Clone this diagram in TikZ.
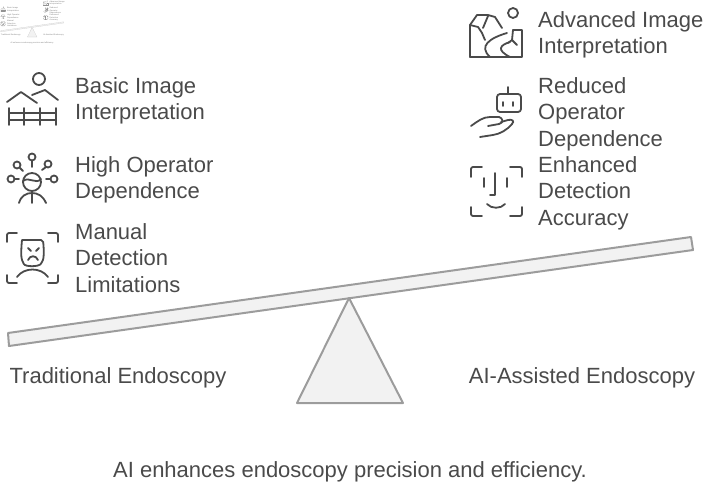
\documentclass[tikz,border=0pt]{standalone}
\usepackage{fontspec}
\setmainfont{Liberation Sans}
\usetikzlibrary{positioning}
\definecolor{inkgrey}{HTML}{4A4A4A}
\definecolor{edgegrey}{HTML}{9C9C9C}
\definecolor{fillgrey}{HTML}{F2F2F2}
\tikzset{
	label text/.style={text=inkgrey, font=\fontsize{22}{26.5}\selectfont, align=left, anchor=west, inner sep=0pt},
	side text/.style={text=inkgrey, font=\fontsize{22}{26.5}\selectfont, inner sep=0pt},
	icon line/.style={draw=inkgrey, line width=1.8pt, line cap=round, line join=round},
	balance part/.style={draw=edgegrey, fill=fillgrey, line width=2pt, line join=round},
	mini picture/.style={
		scale=.092, name prefix=mini_,
		label text/.append style={text=inkgrey!70, font=\fontsize{2}{2.45}\selectfont},
		side text/.append style={text=inkgrey!70, font=\fontsize{2}{2.45}\selectfont},
		icon line/.append style={draw=inkgrey!60, line width=.12pt},
		balance part/.append style={draw=edgegrey!60, line width=.15pt}
	}
}

\newcommand{\drawseesaw}{
	% Balance.
	\draw[balance part] (8,333) -- (691,237) -- (693,250) -- (9,346) -- cycle;
	\draw[balance part] (349,298) -- (403,403) -- (297,403) -- cycle;

	% Left labels.
	\node[label text] (basic_label)  at (75,101)  {Basic Image\\Interpretation};
	\node[label text] (high_label)   at (75,180) {High Operator\\Dependence};
	\node[label text] (manual_label) at (75,258) {Manual\\Detection\\Limitations};

	% Right labels.
	\node[label text] (advanced_label) at (538,35)  {Advanced Image\\Interpretation};
	\node[label text] (reduced_label)  at (538,114) {Reduced\\Operator\\Dependence};
	\node[label text] (enhanced_label) at (538,193) {Enhanced\\Detection\\Accuracy};

	% Bottom labels.
	\node[side text] (traditional_label) at (118,378) {Traditional Endoscopy};
	\node[side text] (assisted_label)    at (582,378) {AI-Assisted Endoscopy};
	\node[side text] (caption)           at (350,472) {AI enhances endoscopy precision and efficiency.};

	% Basic image icon.
	\draw[icon line] (39,79) circle (6);
	\draw[icon line] (7,102) -- (21,92) -- (37,103);
	\draw[icon line] (32,95) -- (45,90) -- (58,100);
	\draw[icon line] (9,108) -- (9,125) (24,108) -- (24,125) (40,108) -- (40,125) (56,108) -- (56,125);
	\draw[icon line] (9,113) -- (56,113) (9,120) -- (56,120);

	% High operator icon.
	\draw[icon line] (32,182) circle (9);
	\draw[icon line] (23,181) .. controls (29,176) and (36,185) .. (41,179);
	\draw[icon line] (19,203) .. controls (21,196) and (26,193) .. (32,193) .. controls (38,193) and (43,196) .. (46,203);
	\draw[icon line] (32,193) -- (32,203);
	\draw[icon line] (32,157) circle (3.5) (32,161) -- (32,167);
	\draw[icon line] (17,165) circle (3.5) (20,168) -- (23,171);
	\draw[icon line] (48,164) circle (3.5) (46,167) -- (42,170);
	\draw[icon line] (11,179) circle (3.5) (15,179) -- (19,179);
	\draw[icon line] (54,179) circle (3.5) (50,179) -- (46,179);

	% Manual detection icon.
	\draw[icon line, rounded corners=2pt] (7,242) -- (7,233) -- (17,233);
	\draw[icon line, rounded corners=2pt] (48,233) -- (58,233) -- (58,242);
	\draw[icon line, rounded corners=2pt] (7,275) -- (7,283) -- (17,283);
	\draw[icon line, rounded corners=2pt] (48,283) -- (58,283) -- (58,275);
	\draw[icon line, rounded corners=2pt] (22,240) -- (43,240) .. controls (44,250) and (44,258) .. (42,262) .. controls (39,267) and (25,267) .. (23,262) .. controls (21,258) and (21,250) .. (22,240);
	\draw[icon line] (28,248) -- (31,251) (39,248) -- (36,251);
	\draw[icon line] (28,260) .. controls (30,255) and (36,255) .. (38,260);
	\draw[icon line] (17,277) .. controls (24,267) and (41,267) .. (48,277);

	% Advanced image icon.
	\draw[icon line] (513,13) circle (5);
	\draw[icon line] (470,57) -- (470,25) -- (477,15) -- (488,15) -- (495,17) -- (502,28);
	\draw[icon line] (513,30) -- (522,30) -- (522,57) -- (470,57);
	\draw[icon line] (470,25) -- (478,27) -- (482,33) -- (485,40);
	\draw[icon line] (488,16) -- (483,28);
	\draw[icon line] (507,33) .. controls (490,38) and (478,46) .. (490,57);
	\draw[icon line] (510,42) .. controls (500,45) and (496,50) .. (510,57);
	\draw[icon line] (513,30) -- (512,40) -- (508,43) (512,40) -- (517,45);

	% Reduced operator icon.
	\draw[icon line] (497,94) [rounded corners=3pt] rectangle (521,112);
	\draw[icon line] (508,94) -- (508,87);
	\draw[icon line] (503,102) -- (503,106) (513,102) -- (513,106);
	\draw[icon line] (471,126) .. controls (478,121) and (483,117) .. (490,117) -- (499,117) .. controls (503,118) and (504,123) .. (499,124) -- (488,126);
	\draw[icon line] (501,122) -- (508,120) .. controls (512,119) and (515,121) .. (512,124) .. controls (507,130) and (500,134) .. (493,135) -- (480,137);

	% Enhanced detection icon.
	\draw[icon line, rounded corners=2pt] (471,177) -- (471,167) -- (482,167);
	\draw[icon line, rounded corners=2pt] (510,167) -- (522,167) -- (522,177);
	\draw[icon line, rounded corners=2pt] (471,207) -- (471,216) -- (482,216);
	\draw[icon line, rounded corners=2pt] (510,216) -- (522,216) -- (522,207);
	\draw[icon line] (484,178) -- (484,187) (507,178) -- (507,187);
	\draw[icon line] (495,173) -- (495,195) -- (490,195);
	\draw[icon line] (487,204) .. controls (491,209) and (501,209) .. (505,204);
}

\begin{document}
\begin{tikzpicture}[x=1pt,y=-1pt]

	\useasboundingbox (0,0) rectangle (708,486);

	\drawseesaw

	% Small copy in the corner.
	\begin{scope}[mini picture]
		\drawseesaw
	\end{scope}

\end{tikzpicture}
\end{document}
